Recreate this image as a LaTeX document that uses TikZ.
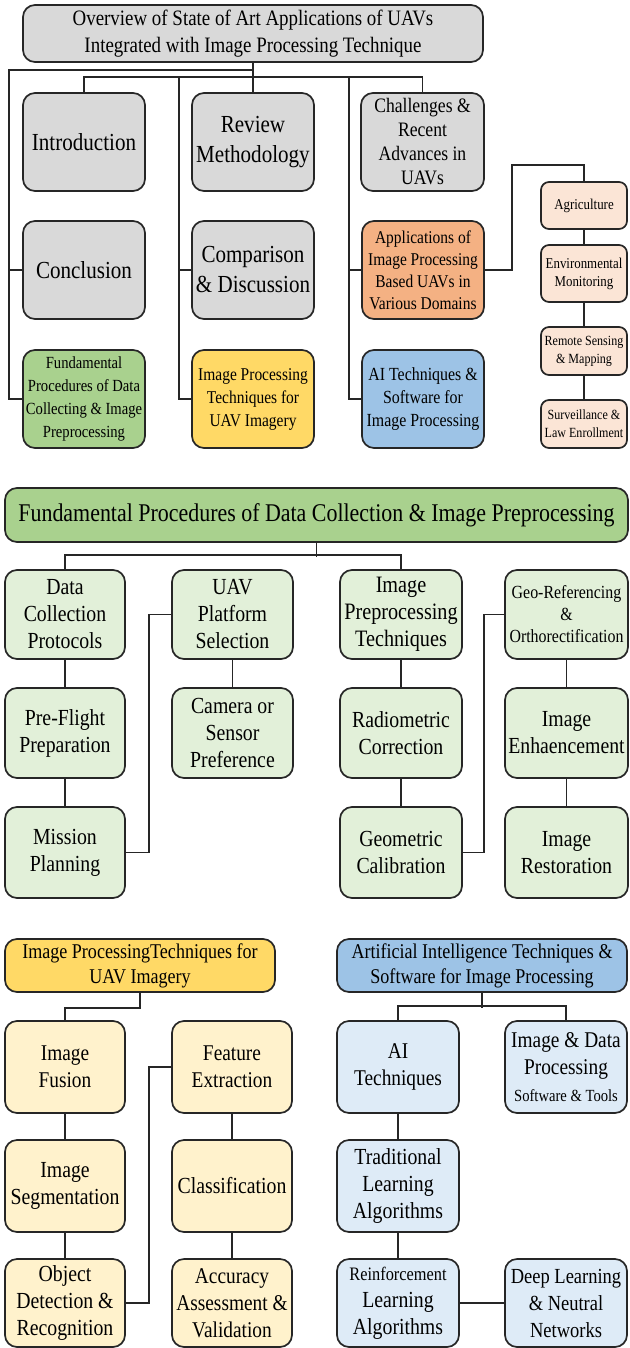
\documentclass[tikz,border=0pt]{standalone}
\usepackage{fontspec}
\setmainfont{Liberation Serif}[FakeStretch=0.86]
\usepackage{tikz}
\definecolor{bordr}{HTML}{262626}
\definecolor{gry}{HTML}{D9D9D9}
\definecolor{org}{HTML}{F4B183}
\definecolor{pch}{HTML}{FBE5D6}
\definecolor{grn}{HTML}{A9D18E}
\definecolor{lgr}{HTML}{E2F0D9}
\definecolor{yel}{HTML}{FFD966}
\definecolor{lyl}{HTML}{FFF2CC}
\definecolor{blu}{HTML}{9DC3E6}
\definecolor{lbl}{HTML}{DEEBF7}
\newcommand\fsz[2]{\fontsize{#1}{#2}\selectfont}

\begin{document}
\begin{tikzpicture}[x=1pt,y=-1pt,bx/.style n args={3}{draw=bordr,fill=#1,minimum width=#2,minimum height=#3,rounded corners=12pt,line width=1.7pt,align=center,inner sep=1pt},sbx/.style={bx={pch}{86pt}{#1},rounded corners=8pt},lnk/.style={draw=bordr,line width=1.5pt}]
\useasboundingbox (0,0) rectangle (629,1348);
\node[bx={gry}{460pt}{57pt},font=\fsz{22}{27}] (ovw) at (253,33.5) {Overview of State of Art Applications of UAVs\\Integrated with Image Processing Technique};
\node[bx={gry}{122pt}{98pt},font=\fsz{24.5}{30}] (intro) at (84,142) {Introduction};
\node[bx={gry}{122pt}{98pt},font=\fsz{24.5}{30}] (review) at (253,142) {Review\\Methodology};
\node[bx={gry}{123pt}{98pt},font=\fsz{20.5}{24}] (chall) at (422.5,142) {Challenges \&\\Recent\\Advances in\\UAVs};
\node[bx={gry}{122pt}{98pt},font=\fsz{24.5}{30}] (concl) at (84,270) {Conclusion};
\node[bx={gry}{122pt}{98pt},font=\fsz{24.5}{30}] (comp) at (253,270) {Comparison\\\& Discussion};
\node[bx={org}{122pt}{98pt},font=\fsz{18}{22}] (appl) at (423,270) {Applications of\\Image Processing\\Based UAVs in\\Various Domains};
\node[bx={grn}{122pt}{98pt},font=\fsz{17}{23}] (fund) at (84,399) {Fundamental\\Procedures of Data\\Collecting \& Image\\Preprocessing};
\node[bx={yel}{122pt}{98pt},font=\fsz{18}{23}] (imgp) at (253,399) {Image Processing\\Techniques for\\UAV Imagery};
\node[bx={blu}{122pt}{98pt},font=\fsz{18.5}{23}] (aisw) at (423,399) {AI Techniques \&\\Software for\\Image Processing};
\node[sbx=47pt,font=\fsz{15}{18}] (agri) at (584,205.5) {Agriculture};
\node[sbx=57pt,font=\fsz{15}{18}] (envr) at (584,273.5) {Environmental\\Monitoring};
\node[sbx=48pt,font=\fsz{14}{18}] (rsm) at (584,351) {Remote Sensing\\\& Mapping};
\node[sbx=48pt,font=\fsz{14}{18}] (surv) at (584,424) {Surveillance \&\\Law Enrollment};
\coordinate (spA) at (9,70);
\coordinate (spB) at (179,77);
\coordinate (spC) at (349,77);
\coordinate (agk) at (512,165);
\draw[lnk] (ovw) -- (review);
\draw[lnk] (ovw.south |- spA) -- (spA) |- (fund.west);
\draw[lnk] (spA |- concl.west) -- (concl.west);
\draw[lnk] (intro.north) -- (intro.north |- spB) -| (chall.north);
\draw[lnk] (spB) |- (imgp.west);
\draw[lnk] (spB |- comp.west) -- (comp.west);
\draw[lnk] (spC) |- (aisw.west);
\draw[lnk] (spC |- appl.west) -- (appl.west);
\draw[lnk] (appl.east) -| (agk) -| (agri.north);
\foreach \a/\b in {agri/envr,envr/rsm,rsm/surv} {
   \draw[lnk] (\a) -- (\b);
}
\node[bx={grn}{623pt}{54pt},font=\fsz{25.5}{30}] (fdc) at (316.5,515) {Fundamental Procedures of Data Collection \& Image Preprocessing};
\node[bx={lgr}{120pt}{89pt},font=\fsz{23}{27}] (dcp) at (65,614.5) {Data\\Collection\\Protocols};
\node[bx={lgr}{120pt}{90pt},font=\fsz{23}{27}] (pfp) at (65,733) {Pre-Flight\\Preparation};
\node[bx={lgr}{120pt}{91pt},font=\fsz{23}{27}] (mpl) at (65,852.5) {Mission\\Planning};
\node[bx={lgr}{121pt}{89pt},font=\fsz{23}{27}] (uav) at (232.5,614.5) {UAV\\Platform\\Selection};
\node[bx={lgr}{121pt}{90pt},font=\fsz{23}{27}] (cam) at (232.5,733) {Camera or\\Sensor\\Preference};
\node[bx={lgr}{122pt}{89pt},font=\fsz{23.5}{27}] (ipt) at (401,614.5) {Image\\Preprocessing\\Techniques};
\node[bx={lgr}{122pt}{90pt},font=\fsz{23}{27}] (rad) at (401,733) {Radiometric\\Correction};
\node[bx={lgr}{122pt}{91pt},font=\fsz{23}{27}] (gcal) at (401,852.5) {Geometric\\Calibration};
\node[bx={lgr}{123pt}{89pt},font=\fsz{18.5}{22}] (gref) at (566.5,614.5) {Geo-Referencing\\\&\\Orthorectification};
\node[bx={lgr}{123pt}{90pt},font=\fsz{23}{27}] (enh) at (566.5,733) {Image\\Enhaencement};
\node[bx={lgr}{123pt}{91pt},font=\fsz{23}{27}] (rest) at (566.5,852.5) {Image\\Restoration};
\draw[lnk] (fdc.south) -- ++(0,14);
\draw[lnk] (dcp.north) -- ++(0,-14) -| (ipt.north);
\draw[lnk] (mpl.east) -- ++(23,0) |- (uav.west);
\draw[lnk] (gcal.east) -- ++(21,0) |- (gref.west);
\foreach \a/\b in {dcp/pfp,pfp/mpl,uav/cam,ipt/rad,rad/gcal,gref/enh,enh/rest} {
   \draw[lnk] (\a) -- (\b);
}
\node[bx={yel}{270pt}{53pt},font=\fsz{21}{25}] (ipu) at (140,965.5) {Image ProcessingTechniques for\\UAV Imagery};
\node[bx={lyl}{120pt}{92pt},font=\fsz{22.5}{27}] (fus) at (65,1067) {Image\\Fusion};
\node[bx={lyl}{120pt}{92pt},font=\fsz{23}{27}] (seg) at (65,1186) {Image\\Segmentation};
\node[bx={lyl}{120pt}{88pt},font=\fsz{23}{27}] (odr) at (65,1303) {Object\\Detection \&\\Recognition};
\node[bx={lyl}{120pt}{92pt},font=\fsz{22.5}{27}] (fex) at (232,1067) {Feature\\Extraction};
\node[bx={lyl}{120pt}{92pt},font=\fsz{23}{27}] (cls) at (232,1186) {Classification};
\node[bx={lyl}{120pt}{88pt},font=\fsz{22.5}{27}] (aav) at (232,1303) {Accuracy\\Assessment \&\\Validation};
\node[bx={blu}{290pt}{53pt},font=\fsz{21}{25}] (aisp) at (482,965.5) {Artificial Intelligence Techniques \&\\Software for Image Processing};
\node[bx={lbl}{122pt}{92pt},font=\fsz{22.5}{27}] (ait) at (398,1067) {AI\\Techniques};
\node[bx={lbl}{122pt}{92pt},font=\fsz{22.5}{27}] (idp) at (566,1067) {Image \& Data\\Processing\\{\fsz{17}{22}Software \& Tools}};
\node[bx={lbl}{122pt}{92pt},font=\fsz{23}{27}] (tla) at (398,1186) {Traditional\\Learning\\Algorithms};
\node[bx={lbl}{122pt}{88pt},font=\fsz{23}{27}] (rla) at (398,1303) {{\fsz{19}{27}Reinforcement}\\Learning\\Algorithms};
\node[bx={lbl}{122pt}{88pt},font=\fsz{21.5}{27}] (dln) at (566,1303) {Deep Learning\\\& Neutral\\Networks};
\draw[lnk] (ipu.south) -- ++(0,15) -| (fus.north);
\draw[lnk] (odr.east) -- ++(23,0) |- (fex.west);
\draw[lnk] (aisp.south) -- ++(0,15);
\draw[lnk] (ait.north) -- ++(0,-14) -| (idp.north);
\foreach \a/\b in {fus/seg,seg/odr,fex/cls,cls/aav,ait/tla,tla/rla,rla/dln} {
   \draw[lnk] (\a) -- (\b);
}
\end{tikzpicture}
\end{document}
